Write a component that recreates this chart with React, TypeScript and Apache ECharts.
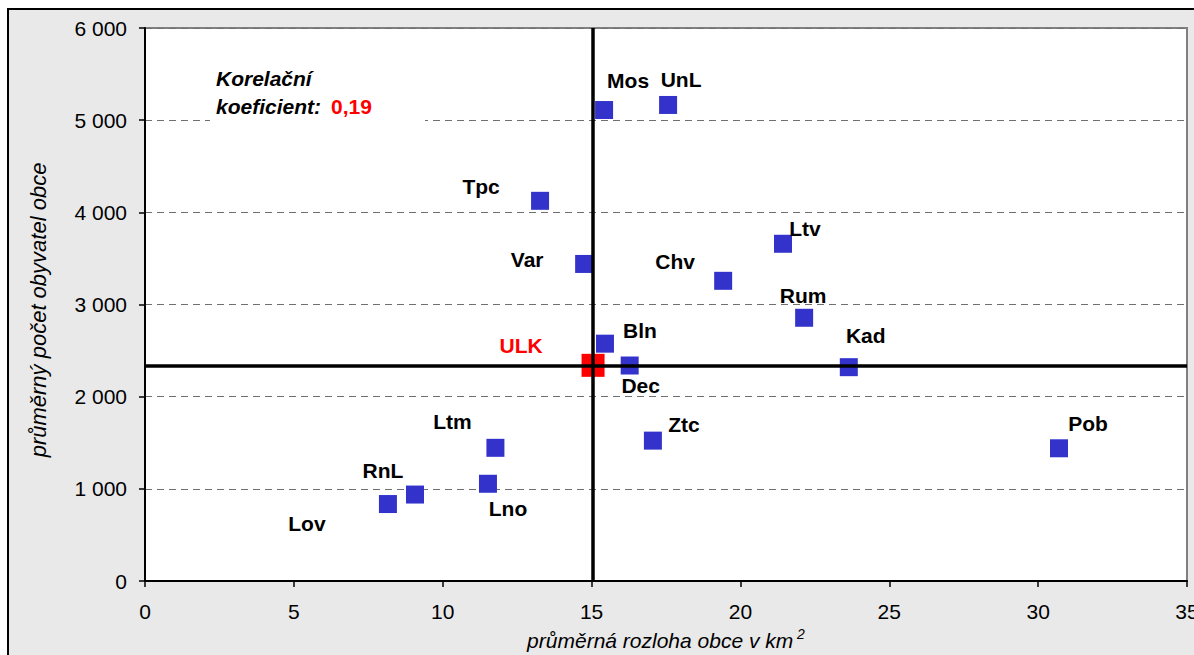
import React, { useEffect, useRef } from "react";
import * as echarts from "echarts";

const names = ["Mos", "UnL", "Tpc", "Var", "Ltv", "Chv", "Rum", "Bln", "Dec", "Kad", "Ltm", "Ztc", "Pob", "Lno", "RnL", "Lov"];
const area = [15.42, 17.57, 13.27, 14.75, 21.43, 19.42, 22.14, 15.45, 16.28, 23.64, 11.77, 17.06, 30.7, 11.52, 9.07, 8.16];
const population = [5110, 5165, 4125, 3440, 3659, 3257, 2856, 2575, 2338, 2320, 1445, 1523, 1440, 1055, 938, 835];
const labelDx = [24, 13, -59, -57, 22, -48, -1, 35, 11, 17, -43, 31, 29, 20, -32, -81];
const labelDy = [-30, -25, -14, -4, -15, -19, -22, -13, 20, -32, -26, -16, -25, 25, -24, 19];

const ulkName = "ULK";
const ulkArea = 15.05;
const ulkPopulation = 2340;
const ulkLabelDx = -72;
const ulkLabelDy = -20;

const xTicks = [0, 5, 10, 15, 20, 25, 30, 35];
const yTicks = [0, 1000, 2000, 3000, 4000, 5000, 6000];
const xTitle = "průměrná rozloha obce v km";
const yTitle = "průměrný počet obyvatel obce";
const corrLabel1 = "Korelační";
const corrLabel2 = "koeficient:";
const corrValue = "0,19";

const FONT = "Liberation Sans, Arial, sans-serif";

export default function App() {
  const ref = useRef<HTMLDivElement>(null);
  useEffect(() => {
    if (!ref.current) return;
    const chart = echarts.init(ref.current, null, { renderer: "svg" });
    const fmtThousands = (v: number) => {
      const s = String(Math.round(v));
      return s.replace(/\B(?=(\d{3})+(?!\d))/g, " ");
    };
    const blueData = names.map((n, i) => ({
      name: n,
      value: [area[i], population[i]],
      label: {
        show: true,
        position: "inside",
        offset: [labelDx[i], labelDy[i]],
        formatter: n,
        color: "#000",
        fontWeight: "bold",
        fontSize: 21,
        fontFamily: FONT,
      },
    }));
    chart.setOption({
      animation: false,
      backgroundColor: "transparent",
      textStyle: { fontFamily: FONT },
      grid: {
        left: 145,
        top: 28,
        width: 1042,
        height: 553,
        show: true,
        backgroundColor: "#ffffff",
        borderColor: "#808080",
        borderWidth: 2,
        containLabel: false,
        outerBoundsMode: "none",
      },
      xAxis: {
        type: "value",
        min: xTicks[0],
        max: xTicks[xTicks.length - 1],
        interval: 5,
        name: "{a|" + xTitle + "}{s| 2}",
        nameLocation: "middle",
        nameGap: 46,
        nameTextStyle: {
          rich: {
            a: { fontSize: 21, fontStyle: "italic", color: "#000", fontFamily: FONT, lineHeight: 24, verticalAlign: "bottom" },
            s: { fontSize: 14, fontStyle: "italic", color: "#000", fontFamily: FONT, lineHeight: 24, verticalAlign: "top", padding: [0, 0, 10, 0] },
          },
        },
        axisLine: { show: true, onZero: false, lineStyle: { color: "#000", width: 2 } },
        axisTick: { show: true, inside: false, length: 6, lineStyle: { color: "#000", width: 1.5 } },
        axisLabel: { show: true, margin: 20, fontSize: 21, color: "#000", fontFamily: FONT, hideOverlap: false },
        splitLine: { show: false },
      },
      yAxis: {
        type: "value",
        min: yTicks[0],
        max: yTicks[yTicks.length - 1],
        interval: 1000,
        axisLine: { show: true, onZero: false, lineStyle: { color: "#000", width: 2 } },
        axisTick: { show: true, inside: false, length: 6, lineStyle: { color: "#000", width: 1.5 } },
        axisLabel: { show: true, margin: 18, fontSize: 21, color: "#000", fontFamily: FONT, formatter: (v: number) => fmtThousands(v) },
        splitLine: { show: true, lineStyle: { color: "#707070", width: 1.2, type: [7, 5] } },
      },
      series: [
        {
          type: "scatter",
          symbol: "rect",
          symbolSize: 18,
          itemStyle: { color: "#3333cc", opacity: 1 },
          data: blueData,
          z: 3,
          markLine: {
            silent: true,
            symbol: ["none", "none"],
            label: { show: false },
            lineStyle: { color: "#000", width: 3.5, type: "solid", opacity: 1 },
            data: [{ xAxis: ulkArea }, { yAxis: ulkPopulation }],
            z: 4,
          },
        },
        {
          type: "scatter",
          symbol: "rect",
          symbolSize: 23,
          itemStyle: { color: "#ff0000", opacity: 1 },
          z: 2,
          data: [
            {
              name: ulkName,
              value: [ulkArea, ulkPopulation],
              label: {
                show: true,
                position: "inside",
                offset: [ulkLabelDx, ulkLabelDy],
                formatter: ulkName,
                color: "#ff0000",
                fontWeight: "bold",
                fontSize: 21,
                fontFamily: FONT,
              },
            },
          ],
        },
      ],
      graphic: [
        {
          type: "text",
          x: 38,
          y: 310,
          rotation: Math.PI / 2,
          style: { text: yTitle, fontSize: 22, fontStyle: "italic", fill: "#000", fontFamily: FONT, align: "center", verticalAlign: "middle" },
        },
        {
          type: "rect",
          z: 50,
          shape: { x: 210, y: 60, width: 215, height: 66 },
          style: { fill: "#ffffff" },
        },
        {
          type: "text",
          z: 51,
          x: 216,
          y: 78,
          style: { text: corrLabel1, fontSize: 21, fontWeight: "bold", fontStyle: "italic", fill: "#000", fontFamily: FONT, verticalAlign: "middle", align: "left" },
        },
        {
          type: "text",
          z: 51,
          x: 216,
          y: 106,
          style: { text: corrLabel2, fontSize: 21, fontWeight: "bold", fontStyle: "italic", fill: "#000", fontFamily: FONT, verticalAlign: "middle", align: "left" },
        },
        {
          type: "text",
          z: 51,
          x: 331,
          y: 106,
          style: { text: corrValue, fontSize: 21, fontWeight: "bold", fill: "#ff0000", fontFamily: FONT, verticalAlign: "middle", align: "left" },
        },
      ],
    });
    return () => chart.dispose();
  }, []);
  return (
    <div style={{ position: "fixed", left: 0, top: 0, width: 1194, height: 655, background: "#fff", overflow: "hidden" }}>
      <div
        style={{
          position: "absolute",
          left: 7,
          top: 8,
          width: 1300,
          height: 800,
          background: "#e9e9e9",
          borderLeft: "2px solid #000",
          borderTop: "2px solid #000",
        }}
      />
      <div ref={ref} style={{ position: "absolute", left: 0, top: 0, width: 1194, height: 655 }} />
    </div>
  );
}
